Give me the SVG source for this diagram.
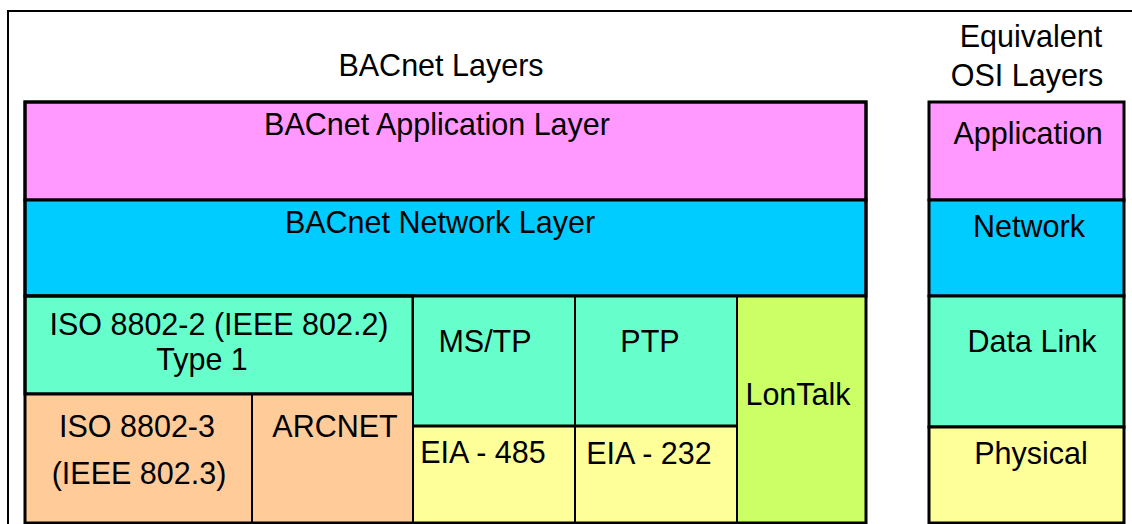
<svg xmlns="http://www.w3.org/2000/svg" width="1132" height="524" viewBox="0 0 1132 524">
<style>
text{font-family:"Liberation Sans",Arial,sans-serif;font-size:30.5px;fill:#000;text-anchor:middle}
.box{stroke:#000;stroke-width:3}
.thin{stroke:#000;stroke-width:2}
.app{fill:#FF99FF}.net{fill:#00CCFF}.dl{fill:#66FFCC}.phy{fill:#FFFF99}.eth{fill:#FFCC99}.lon{fill:#CCFF66}
</style>
<rect x="0" y="0" width="1132" height="524" fill="#fff"/>
<rect x="8" y="11" width="1140" height="540" fill="none" stroke="#000" stroke-width="2"/>
<g id="title"><text x="441" y="76">BACnet Layers</text></g>
<g id="osi-title"><text x="1031" y="47">Equivalent</text><text x="1027" y="86">OSI Layers</text></g>
<g id="bacnet-app"><rect class="app box" x="25" y="102" width="841" height="98"/><text x="437" y="135">BACnet Application Layer</text></g>
<g id="bacnet-net"><rect class="net box" x="25" y="200" width="841" height="96"/><text x="440" y="233">BACnet Network Layer</text></g>
<g id="iso8802-2"><rect class="dl box" x="25" y="296" width="388" height="98"/><text x="219" y="335">ISO 8802-2 (IEEE 802.2)</text><text x="202" y="370">Type 1</text></g>
<g id="mstp"><rect class="dl thin" x="413" y="296" width="162" height="130"/><text x="485" y="352">MS/TP</text></g>
<g id="ptp"><rect class="dl thin" x="575" y="296" width="162" height="130"/><text x="650" y="352">PTP</text></g>
<g id="lontalk"><rect class="lon thin" x="737" y="296" width="129" height="227"/><text x="798" y="405">LonTalk</text></g>
<g id="iso8802-3"><rect class="eth thin" x="25" y="394" width="227" height="129"/><text x="137" y="437">ISO 8802-3</text><text x="139" y="484">(IEEE 802.3)</text></g>
<g id="arcnet"><rect class="eth thin" x="252" y="394" width="161" height="129"/><text x="335" y="437">ARCNET</text></g>
<g id="eia485"><rect class="phy thin" x="413" y="426" width="162" height="97"/><text x="483" y="463">EIA - 485</text></g>
<g id="eia232"><rect class="phy thin" x="575" y="426" width="162" height="97"/><text x="649" y="464">EIA - 232</text></g>
<g id="bacnet-frame"><rect x="25" y="102" width="841" height="421" fill="none" stroke="#000" stroke-width="3"/><line x1="25" y1="296" x2="866" y2="296" stroke="#000" stroke-width="3"/><line x1="25" y1="394" x2="413" y2="394" stroke="#000" stroke-width="3"/><line x1="413" y1="426" x2="737" y2="426" stroke="#000" stroke-width="3"/></g>
<g id="osi-app"><rect class="app box" x="929" y="102" width="195" height="98"/><text x="1028" y="144">Application</text></g>
<g id="osi-net"><rect class="net box" x="929" y="200" width="195" height="96"/><text x="1029" y="237">Network</text></g>
<g id="osi-dl"><rect class="dl box" x="929" y="296" width="195" height="131"/><text x="1032" y="352">Data Link</text></g>
<g id="osi-phy"><rect class="phy box" x="929" y="427" width="195" height="96"/><text x="1031" y="464">Physical</text></g>
<g id="connectors"></g>
</svg>
